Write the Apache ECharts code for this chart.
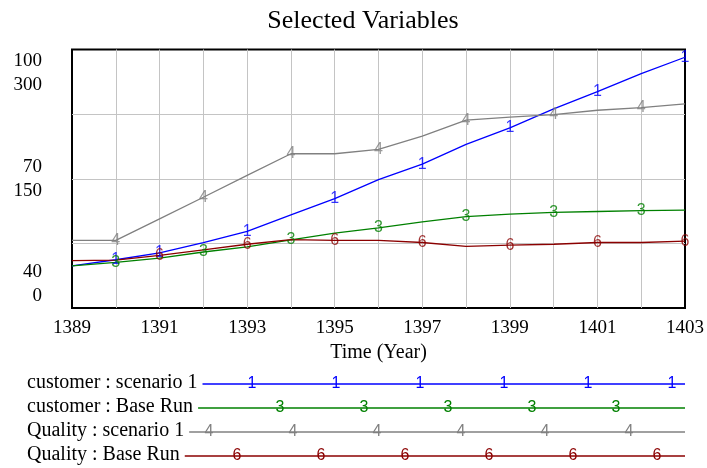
<!DOCTYPE html>
<html>
<head>
<meta charset="utf-8">
<script src="https://cdn.jsdelivr.net/npm/echarts@6/dist/echarts.min.js"></script>
<style>html,body{margin:0;padding:0;background:#fff}#c{width:707px;height:468px}</style>
</head>
<body>
<div id="c"></div>
<script>
const years = [1389,1390,1391,1392,1393,1394,1395,1396,1397,1398,1399,1400,1401,1402,1403];
const custScenario1 = [49,56,64,76,89,108,127,149,167,190,209,231,251,272,291];
const custBase = [49,53,58,65,71,79,87,93,100,106,109,111,112,113,113.5];
const qualScenario1 = [55.7,55.7,60.7,65.7,70.8,75.8,75.8,76.8,79.9,83.6,84.3,84.9,85.9,86.5,87.4];
const qualBase = [51,51.1,52.2,53.5,54.8,55.85,55.7,55.7,55.2,54.3,54.6,54.8,55.2,55.2,55.5];
const seriesNames = ['customer : scenario 1','customer : Base Run','Quality : scenario 1','Quality : Base Run'];
const markerDigits = ['1','3','4','6'];
const markerYears = [
  [1390,1391,1393,1395,1397,1399,1401,1403],
  [1390,1392,1394,1396,1398,1400,1402],
  [1390,1392,1394,1396,1398,1400,1402],
  [1391,1393,1395,1397,1399,1401,1403]
];
const yLeftLabels = {0:'40\n0\n \n ', 150:'70\n150', 300:' \n \n100\n300'};

const colors = ['#0000ff','#008000','#808080','#8b0000'];
const serif = '"Liberation Serif","Times New Roman",serif';
const sans = '"Liberation Sans",Arial,sans-serif';
const allData = [custScenario1, custBase, qualScenario1, qualBase];
const axisIdx = [0,0,1,1];

const chart = echarts.init(document.getElementById('c'), null, {renderer:'canvas'});

const series = [];
allData.forEach((arr, i) => {
  series.push({
    type:'line', name: seriesNames[i], yAxisIndex: axisIdx[i],
    data: years.map((y, k) => [y, arr[k]]),
    showSymbol:false, symbol:'none', lineStyle:{color:colors[i], width:1.3}, z: 3
  });
  series.push({
    type:'scatter', yAxisIndex: axisIdx[i],
    data: markerYears[i].map(y => [y, arr[years.indexOf(y)]]),
    symbol:'circle', symbolSize:1, itemStyle:{color:'rgba(0,0,0,0)'},
    label:{show:true, position:'inside', formatter: markerDigits[i], color: colors[i], fontSize:16, fontFamily: sans},
    z: 4, silent:true
  });
});

// legend via graphic
const legendFont = '20px ' + serif;
const ctx = document.createElement('canvas').getContext('2d');
ctx.font = legendFont;
const graphic = [];
const rowY = [384, 408, 432, 456];
const rowMarkStart = [252, 280, 209, 237];
const plotRight = 685;
seriesNames.forEach((nm, i) => {
  const w = ctx.measureText(nm).width;
  const x0 = 27;
  graphic.push({type:'text', left:x0, top: rowY[i]-11, style:{text:nm, font:legendFont, fill:'#000'}});
  graphic.push({type:'line', shape:{x1:x0 + w + 5, y1:rowY[i], x2:plotRight, y2:rowY[i]}, style:{stroke:colors[i], lineWidth:1.3}});
  for (let x = rowMarkStart[i]; x < plotRight; x += 84) {
    graphic.push({type:'text', x:x, y:rowY[i], style:{text:markerDigits[i], font:'16px ' + sans, fill:colors[i], align:'center', verticalAlign:'middle'}});
  }
});

const option = {
  animation:false,
  backgroundColor:'#fff',
  title:{text:'Selected Variables', left:358, top:3, textAlign:'center',
    textStyle:{fontFamily:serif, fontSize:26, fontWeight:'normal', color:'#000'}},
  grid:{left:72, right:22, top:48, bottom:160, show:true, borderColor:'#000', borderWidth:2, backgroundColor:'transparent'},
  xAxis:{type:'value', min:1389, max:1403, interval:1,
    axisLine:{show:false}, axisTick:{show:false},
    splitLine:{show:true, showMinLine:false, showMaxLine:false, lineStyle:{color:'#c4c4c4', width:1}},
    axisLabel:{formatter: v => ((v-1389)%2===0 ? String(v) : ''), fontFamily:serif, fontSize:19, color:'#000', margin:11},
    name:'Time (Year)', nameLocation:'middle', nameGap:34,
    nameTextStyle:{fontFamily:serif, fontSize:20, color:'#000'}},
  yAxis:[
    {type:'value', min:0, max:300, interval:75, position:'left',
      axisLine:{show:false}, axisTick:{show:false},
      splitLine:{show:true, showMinLine:false, showMaxLine:false, lineStyle:{color:'#c4c4c4', width:1}},
      axisLabel:{formatter: v => (yLeftLabels[v] !== undefined ? yLeftLabels[v] : ''), fontFamily:serif, fontSize:19, lineHeight:24, color:'#000', margin:30, align:'right', verticalAlign:'middle', padding:[3,0,0,0]}},
    {type:'value', min:40, max:100, position:'left', show:false, splitLine:{show:false}}
  ],
  graphic: graphic,
  series: series
};
chart.setOption(option);
</script>
</body>
</html>
